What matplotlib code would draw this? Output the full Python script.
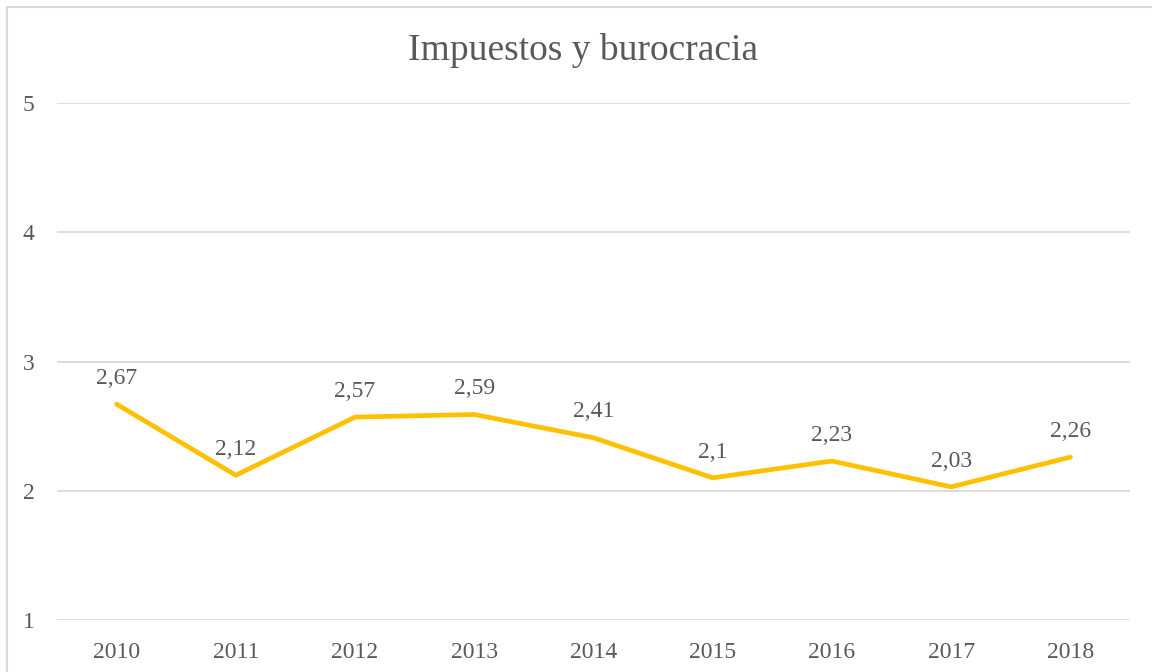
import matplotlib.pyplot as plt
from matplotlib.patches import Rectangle

plt.rcParams['font.family'] = ['Liberation Serif', 'DejaVu Serif']

years = ["2010", "2011", "2012", "2013", "2014", "2015", "2016", "2017", "2018"]
values = [2.67, 2.12, 2.57, 2.59, 2.41, 2.10, 2.23, 2.03, 2.26]
labels = ["2,67", "2,12", "2,57", "2,59", "2,41", "2,1", "2,23", "2,03", "2,26"]
yticks = [1, 2, 3, 4, 5]

text_color = "#595959"
grid_color = "#D9D9D9"

fig = plt.figure(figsize=(11.52, 6.72), dpi=100)
ax = fig.add_axes([57 / 1152, 1 - 620 / 672, (1130 - 57) / 1152, (620 - 103) / 672])

# marco del gráfico (sólo se ven los bordes izquierdo y superior)
fig.patches.append(Rectangle((7 / 1152, -0.1), 1.2, 1 - 7 / 672 + 0.1,
                             transform=fig.transFigure, fill=False,
                             edgecolor=grid_color, linewidth=1.5))

x = range(len(years))
ax.plot(x, values, color="#FFC000", linewidth=3.4, solid_capstyle="round",
        solid_joinstyle="round", zorder=3)

for xi, v, lab in zip(x, values, labels):
    ax.annotate(lab, (xi, v), xytext=(0, 11), textcoords="offset points",
                ha="center", va="bottom", fontsize=17, color=text_color)

ax.set_xlim(-0.5, len(years) - 0.5)
ax.set_ylim(1, 5)
ax.set_xticks(list(x))
ax.set_xticklabels(years)
ax.set_yticks(yticks)
ax.tick_params(axis="both", length=0, labelsize=17, labelcolor=text_color)
ax.tick_params(axis="x", pad=16)
ax.tick_params(axis="y", pad=16)

ax.yaxis.grid(True, color=grid_color, linewidth=1.3)
ax.set_axisbelow(True)
for s in ax.spines.values():
    s.set_visible(False)

fig.text(583 / 1152, 1 - 51 / 672, "Impuestos y burocracia", ha="center", va="center",
         fontsize=27, color=text_color)

fig.savefig("out.png", dpi=100)
